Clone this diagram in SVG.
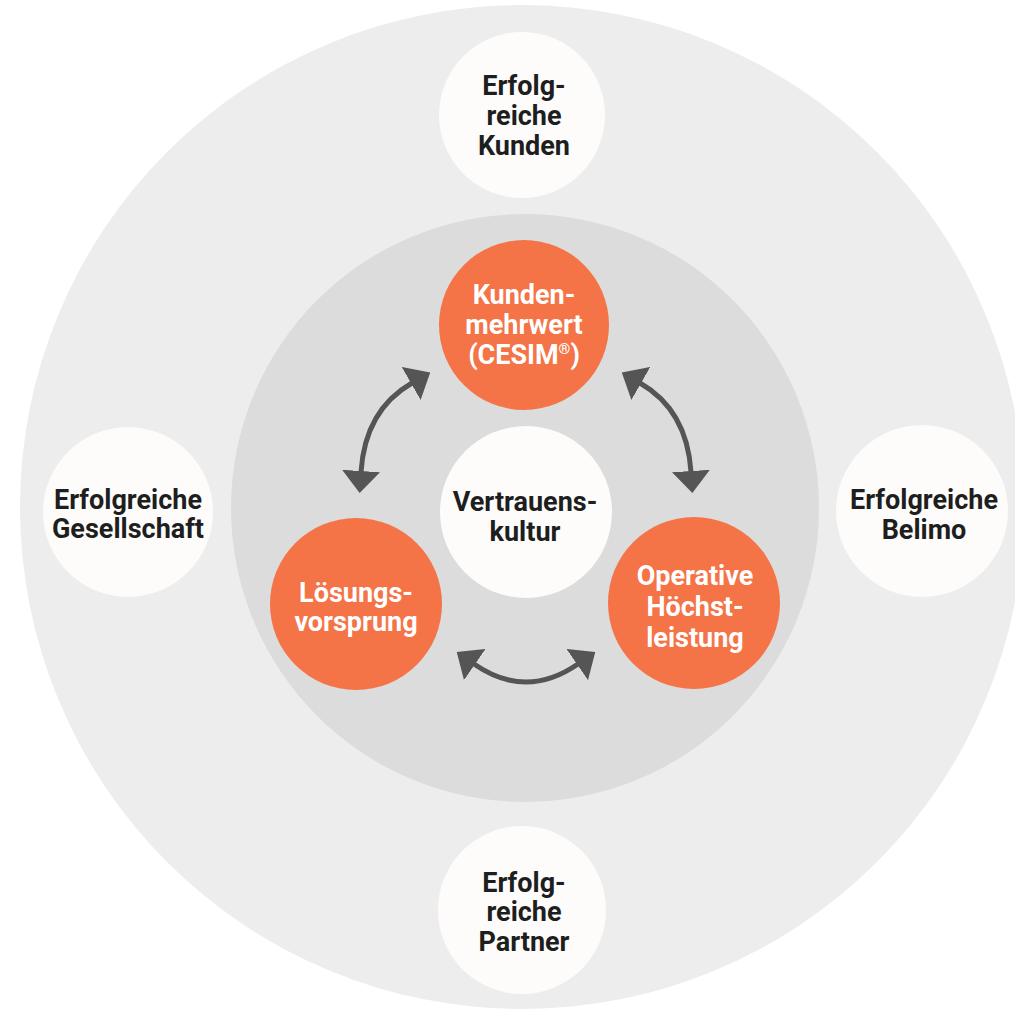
<svg xmlns="http://www.w3.org/2000/svg" width="1015" height="1011" viewBox="0 0 1015 1011">
<style>
.bg{fill:#ffffff}
.outer{fill:#ededed}
.inner{fill:#dcdcdc}
.wc{fill:#fdfcfb}
.oc{fill:#f47347}
.t{font-family:Roboto,"Liberation Sans",sans-serif;font-weight:bold;font-size:27px;text-anchor:middle}
.dk{fill:#1e1e1e}
.lt{fill:#ffffff}
.arr{fill:none;stroke:#555555;stroke-width:5}
</style>
<defs>
<marker id="ah" viewBox="0 0 22 38" refX="1" refY="19" markerWidth="22" markerHeight="38" markerUnits="userSpaceOnUse" orient="auto-start-reverse">
<path d="M0,0 L22,19 L0,38 z" fill="#555555"/>
</marker>
</defs>
<rect class="bg" x="0" y="0" width="1015" height="1011"/>
<circle class="outer" cx="522" cy="507" r="502"/>
<circle class="inner" cx="525" cy="508" r="294"/>
<g id="n-kunden">
<circle class="wc" cx="522" cy="115" r="83"/>
<text class="t dk" x="524" y="95">Erfolg-</text>
<text class="t dk" x="524" y="125">reiche</text>
<text class="t dk" x="524" y="155">Kunden</text>
</g>
<g id="n-gesellschaft">
<circle class="wc" cx="128" cy="512" r="85"/>
<text class="t dk" x="128" y="509">Erfolgreiche</text>
<text class="t dk" x="128" y="538">Gesellschaft</text>
</g>
<g id="n-belimo">
<circle class="wc" cx="922" cy="511" r="86"/>
<text class="t dk" x="924" y="509">Erfolgreiche</text>
<text class="t dk" x="924" y="539">Belimo</text>
</g>
<g id="n-partner">
<circle class="wc" cx="522" cy="910" r="84"/>
<text class="t dk" x="524" y="892">Erfolg-</text>
<text class="t dk" x="524" y="921">reiche</text>
<text class="t dk" x="524" y="951">Partner</text>
</g>
<g id="n-kundenmehrwert">
<circle class="oc" cx="524" cy="325" r="85"/>
<text class="t lt" x="524" y="304">Kunden-</text>
<text class="t lt" x="524" y="334">mehrwert</text>
<text class="t lt" x="524" y="364">(CESIM<tspan font-size="15" dy="-10">®</tspan><tspan dy="10">)</tspan></text>
</g>
<g id="n-vertrauen">
<circle class="wc" cx="526" cy="512" r="86"/>
<text class="t dk" x="525" y="511">Vertrauens-</text>
<text class="t dk" x="525" y="541">kultur</text>
</g>
<g id="n-loesung">
<circle class="oc" cx="356" cy="604" r="86"/>
<text class="t lt" x="356" y="602">Lösungs-</text>
<text class="t lt" x="356" y="631">vorsprung</text>
</g>
<g id="n-operative">
<circle class="oc" cx="694" cy="603" r="86"/>
<text class="t lt" x="695" y="585">Operative</text>
<text class="t lt" x="695" y="616">Höchst-</text>
<text class="t lt" x="695" y="647">leistung</text>
</g>
<g id="connectors">
<path class="arr" d="M361 472 Q365 410 412 383" marker-start="url(#ah)" marker-end="url(#ah)"/>
<path class="arr" d="M691 472 Q687 410 640 383" marker-start="url(#ah)" marker-end="url(#ah)"/>
<path class="arr" d="M474 664 Q526 700 578 664" marker-start="url(#ah)" marker-end="url(#ah)"/>
</g>
</svg>
